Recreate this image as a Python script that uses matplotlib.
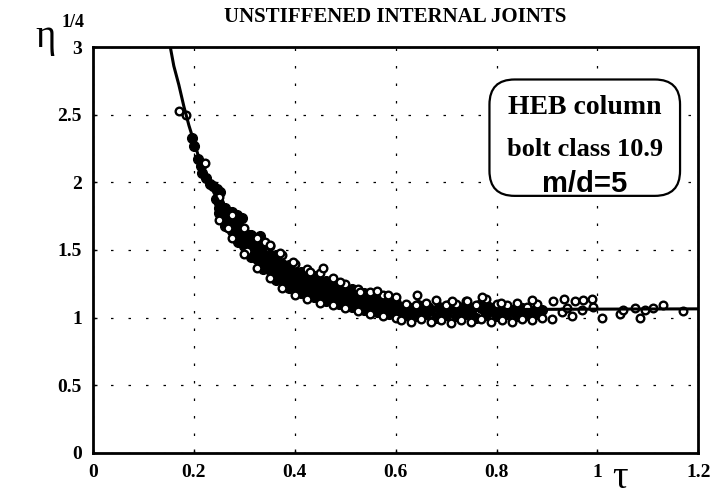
import matplotlib.pyplot as plt
from matplotlib.patches import FancyBboxPatch

# fitted curve
fit_tau = [0.153, 0.16, 0.17, 0.18, 0.19, 0.20, 0.21, 0.22, 0.24, 0.26, 0.28, 0.30,
           0.33, 0.36, 0.40, 0.45, 0.50, 0.55, 0.60, 0.65, 0.70, 0.80, 1.00, 1.20]
fit_eta = [3.00, 2.86, 2.72, 2.56, 2.42, 2.30, 2.18, 2.08, 1.92, 1.79, 1.67, 1.57,
           1.45, 1.35, 1.25, 1.16, 1.11, 1.08, 1.06, 1.055, 1.055, 1.06, 1.063, 1.065]

# test points near the steep part
steep_tau = [0.196, 0.200, 0.208, 0.214, 0.216, 0.224, 0.232, 0.238, 0.246,
             0.252, 0.243, 0.256, 0.266, 0.276, 0.286, 0.296, 0.286, 0.310, 0.330]
steep_eta = [2.33, 2.27, 2.17, 2.12, 2.07, 2.03, 1.99, 1.97, 1.95,
             1.93, 1.88, 1.81, 1.78, 1.78, 1.76, 1.74, 1.63, 1.61, 1.60]
open_tau = [0.170, 0.185, 0.222, 0.268, 0.305]
open_eta = [2.53, 2.50, 2.14, 1.66, 1.49]

# dense band, rows across the cloud
band_tau = [0.25, 0.275, 0.30, 0.325, 0.35, 0.375, 0.40, 0.425, 0.45, 0.475, 0.50, 0.525, 0.55, 0.575, 0.60]
band_r0 = [1.72, 1.59, 1.47, 1.37, 1.29, 1.22, 1.17, 1.14, 1.11, 1.09, 1.07, 1.05, 1.03, 1.01, 1.00]
band_r1 = [1.77, 1.64, 1.53, 1.43, 1.35, 1.28, 1.23, 1.19, 1.16, 1.13, 1.11, 1.09, 1.07, 1.05, 1.04]
band_r2 = [1.81, 1.68, 1.58, 1.49, 1.41, 1.34, 1.28, 1.24, 1.21, 1.18, 1.16, 1.13, 1.11, 1.09, 1.08]
band_r3 = [1.85, 1.72, 1.62, 1.54, 1.46, 1.40, 1.34, 1.30, 1.27, 1.23, 1.20, 1.17, 1.15, 1.13, 1.11]
band_r4 = [1.89, 1.76, 1.66, 1.59, 1.53, 1.46, 1.40, 1.36, 1.33, 1.29, 1.25, 1.21, 1.19, 1.17, 1.15]

half_tau = [0.2625, 0.2875, 0.3125, 0.3375, 0.3625, 0.3875, 0.4125, 0.4375, 0.4625, 0.4875,
            0.5125, 0.5375, 0.5625, 0.5875]
half_r0 = [1.68, 1.56, 1.45, 1.36, 1.28, 1.22, 1.18, 1.15, 1.12, 1.10, 1.08, 1.06, 1.04, 1.03]
half_r1 = [1.72, 1.61, 1.51, 1.42, 1.34, 1.28, 1.23, 1.20, 1.17, 1.15, 1.12, 1.10, 1.08, 1.07]
half_r2 = [1.77, 1.66, 1.56, 1.47, 1.40, 1.34, 1.29, 1.25, 1.22, 1.19, 1.16, 1.14, 1.12, 1.10]
half_r3 = [1.81, 1.70, 1.61, 1.53, 1.46, 1.39, 1.34, 1.31, 1.27, 1.24, 1.21, 1.18, 1.16, 1.14]

spike_tau = [0.341, 0.351, 0.371, 0.397, 0.430, 0.456, 0.490, 0.530, 0.563, 0.585, 0.643]
spike_eta = [1.56, 1.54, 1.48, 1.41, 1.34, 1.37, 1.26, 1.19, 1.20, 1.17, 1.17]

# flat part
flat_tau_a = [0.61, 0.63, 0.65, 0.67, 0.69, 0.71, 0.73, 0.75, 0.77, 0.79, 0.81, 0.83, 0.85, 0.87, 0.89]
flat_ya = [0.98, 0.97, 0.99, 0.97, 0.98, 0.96, 0.98, 0.97, 0.99, 0.97, 0.98, 0.97, 0.99, 0.98, 1.00]
flat_yc = [1.06, 1.05, 1.07, 1.06, 1.05, 1.07, 1.06, 1.05, 1.07, 1.06, 1.05, 1.06, 1.07, 1.05, 1.06]
flat_tau_b = [0.62, 0.64, 0.66, 0.68, 0.70, 0.72, 0.74, 0.76, 0.78, 0.80, 0.82, 0.84, 0.86, 0.88]
flat_yb = [1.02, 1.01, 1.03, 1.00, 1.02, 1.01, 1.03, 1.00, 1.02, 1.01, 1.03, 1.01, 1.02, 1.03]
flat_yd = [1.10, 1.09, 1.11, 1.13, 1.09, 1.10, 1.12, 1.09, 1.14, 1.10, 1.09, 1.11, 1.08, 1.10]
flat_tau_e = [0.605, 0.625, 0.645, 0.665, 0.685, 0.705, 0.725, 0.745, 0.765, 0.785]
flat_ye = [1.08, 1.08, 1.09, 1.08, 1.08, 1.09, 1.08, 1.08, 1.09, 1.08]

tail_tau = [0.712, 0.742, 0.772, 0.808, 0.870, 0.913, 0.933, 0.956, 0.972, 0.990,
            0.992, 1.010, 1.045, 1.050, 1.075, 1.085, 1.095, 1.110, 1.130, 1.170,
            0.930, 0.950, 0.970, 0.910, 0.940]
tail_eta = [1.12, 1.12, 1.15, 1.11, 1.13, 1.12, 1.14, 1.12, 1.13, 1.14,
            1.08, 1.00, 1.03, 1.06, 1.07, 1.00, 1.06, 1.07, 1.09, 1.05,
            1.04, 1.01, 1.06, 0.99, 1.07]

x_ticks = [0, 0.2, 0.4, 0.6, 0.8, 1, 1.2]
x_labels = ['0', '0.2', '0.4', '0.6', '0.8', '1', '1.2']
y_ticks = [0, 0.5, 1, 1.5, 2, 2.5, 3]
y_labels = ['0', '0.5', '1', '1.5', '2', '2.5', '3']

serif = 'Liberation Serif'

fig = plt.figure(figsize=(7.11, 4.98), dpi=100)
ax = fig.add_axes([0.131, 0.0904, 0.851, 0.8152])

hollow = dict(linestyle='none', marker='o', markersize=5.5, markerfacecolor='white',
              markeredgecolor='black', markeredgewidth=1.7)
solid = dict(linestyle='none', marker='o', markersize=7, color='black')

# inner rows of the cloud overlap so much that they read as solid black
ax.plot(steep_tau, steep_eta, **solid)
for row in [band_r1, band_r2, band_r3]:
    ax.plot(band_tau, row, **solid)
for row in [half_r0, half_r1, half_r2, half_r3]:
    ax.plot(half_tau, row, **solid)
ax.plot(flat_tau_b, flat_yb, **solid)
ax.plot(flat_tau_a, flat_yc, **solid)
ax.plot(flat_tau_e, flat_ye, **solid)

ax.plot(open_tau, open_eta, **hollow)
ax.plot(band_tau, band_r0, **hollow)
ax.plot(band_tau, band_r4, **hollow)
ax.plot(spike_tau, spike_eta, **hollow)
ax.plot(flat_tau_a, flat_ya, **hollow)
ax.plot(flat_tau_b, flat_yd, **hollow)
ax.plot(tail_tau, tail_eta, **hollow)

ax.plot(fit_tau, fit_eta, color='black', linewidth=2.2)

ax.set_xlim(0, 1.2)
ax.set_ylim(0, 3)
ax.set_xticks(x_ticks)
ax.set_xticklabels(x_labels)
ax.set_yticks(y_ticks)
ax.set_yticklabels(y_labels)
for lab in ax.get_xticklabels() + ax.get_yticklabels():
    lab.set_fontfamily(serif)
    lab.set_fontweight('bold')
    lab.set_fontsize(14)
ax.tick_params(direction='in', length=3, width=1, pad=8)
ax.grid(True, color='black', linestyle=(0, (2, 12)), linewidth=0.9)
for s in ax.spines.values():
    s.set_linewidth(2)

fig.text(0.556, 0.965, 'UNSTIFFENED INTERNAL JOINTS', ha='center', va='center',
         fontfamily=serif, fontweight='bold', fontsize=15)
fig.text(0.05, 0.925, 'η', ha='left', va='center', fontfamily=serif, fontsize=28)
fig.text(0.087, 0.955, '1/4', ha='left', va='center', fontfamily=serif,
         fontweight='bold', fontsize=13)
fig.text(0.872, 0.04, 'τ', ha='center', va='center', fontfamily=serif, fontsize=28)

box = FancyBboxPatch((0.786, 1.90), 0.378, 0.86, boxstyle='round,pad=0,rounding_size=0.05',
                     transform=ax.transData, facecolor='white', edgecolor='black',
                     linewidth=1.6, zorder=5, mutation_aspect=3.7)
ax.add_patch(box)
ax.text(0.975, 2.55, 'HEB column', ha='center', va='center', fontfamily=serif,
        fontweight='bold', fontsize=20, zorder=6)
ax.text(0.975, 2.24, 'bolt class 10.9', ha='center', va='center', fontfamily=serif,
        fontweight='bold', fontsize=19, zorder=6)
ax.text(0.975, 1.99, 'm/d=5', ha='center', va='center', fontfamily='Liberation Sans',
        fontweight='bold', fontsize=21, zorder=6)

fig.savefig('out.png', dpi=100)
